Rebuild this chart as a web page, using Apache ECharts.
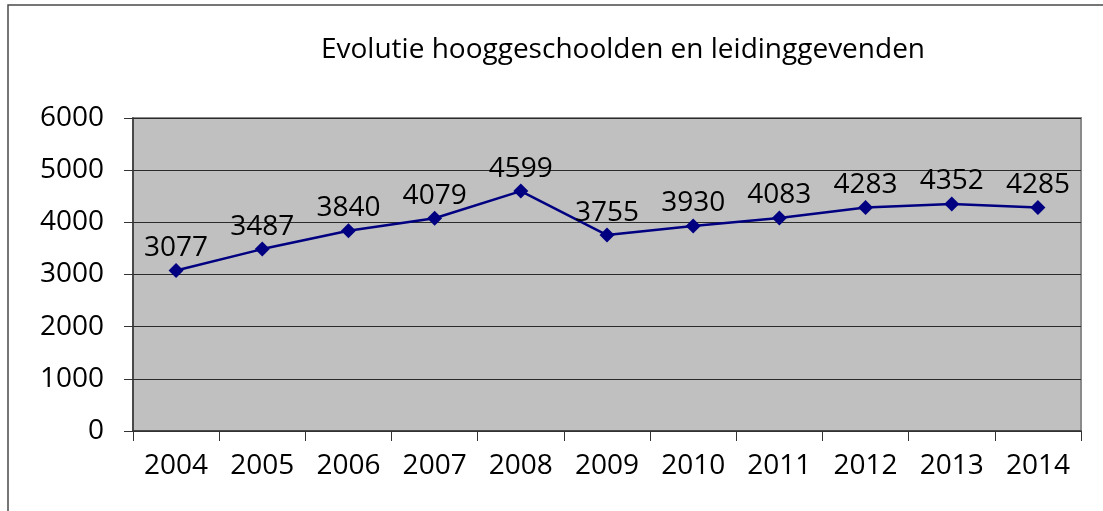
<!DOCTYPE html>
<html>
<head>
<meta charset="utf-8">
<script src="https://cdn.jsdelivr.net/npm/echarts@6/dist/echarts.min.js"></script>
<style>
  html, body { margin: 0; padding: 0; background: #fff; }
  #chart { width: 1103px; height: 511px; }
</style>
</head>
<body>
<div id="chart"></div>
<script>
const years = ['2004', '2005', '2006', '2007', '2008', '2009', '2010', '2011', '2012', '2013', '2014'];
const counts = [3077, 3487, 3840, 4079, 4599, 3755, 3930, 4083, 4283, 4352, 4285];
const yTicks = [0, 1000, 2000, 3000, 4000, 5000, 6000];

const font = '"Open Sans", "Noto Sans", sans-serif';
const myChart = echarts.init(document.getElementById('chart'));

myChart.setOption({
  animation: false,
  textStyle: { fontFamily: font },
  title: {
    text: 'Evolutie hooggeschoolden en leidinggevenden',
    left: 618,
    top: 31,
    textAlign: 'center',
    textStyle: { fontSize: 28, fontWeight: 'normal', color: '#000', fontFamily: font }
  },
  graphic: [{
    type: 'rect',
    silent: true,
    shape: { x: 8, y: 5, width: 1200, height: 600 },
    style: { fill: 'none', stroke: '#4a4a4a', lineWidth: 1.5 }
  }],
  grid: {
    left: 133,
    right: 22,
    top: 118,
    bottom: 80,
    show: true,
    backgroundColor: '#c0c0c0',
    borderColor: '#8a8a8a',
    borderWidth: 2
  },
  xAxis: {
    type: 'category',
    data: years,
    boundaryGap: true,
    axisLine: { lineStyle: { color: '#333', width: 1.5 } },
    axisTick: { show: true, length: 10, lineStyle: { color: '#333' } },
    axisLabel: { fontSize: 28, color: '#000', margin: 21, fontFamily: font }
  },
  yAxis: {
    type: 'value',
    min: yTicks[0],
    max: yTicks[yTicks.length - 1],
    interval: 1000,
    axisLine: { show: true, lineStyle: { color: '#333', width: 1.5 } },
    axisTick: { show: true, length: 9, lineStyle: { color: '#333' } },
    axisLabel: {
      fontSize: 28, color: '#000', margin: 29, fontFamily: font,
      formatter: (v) => String(v)
    },
    splitLine: { show: true, lineStyle: { color: '#2a2a2a', width: 1 } }
  },
  series: [{
    type: 'line',
    data: counts,
    symbol: 'diamond',
    symbolSize: 15,
    lineStyle: { color: '#000080', width: 2.5 },
    itemStyle: { color: '#000080' },
    label: {
      show: true,
      position: 'top',
      distance: 1,
      fontSize: 28,
      color: '#000',
      fontFamily: font
    }
  }]
});
</script>
</body>
</html>
